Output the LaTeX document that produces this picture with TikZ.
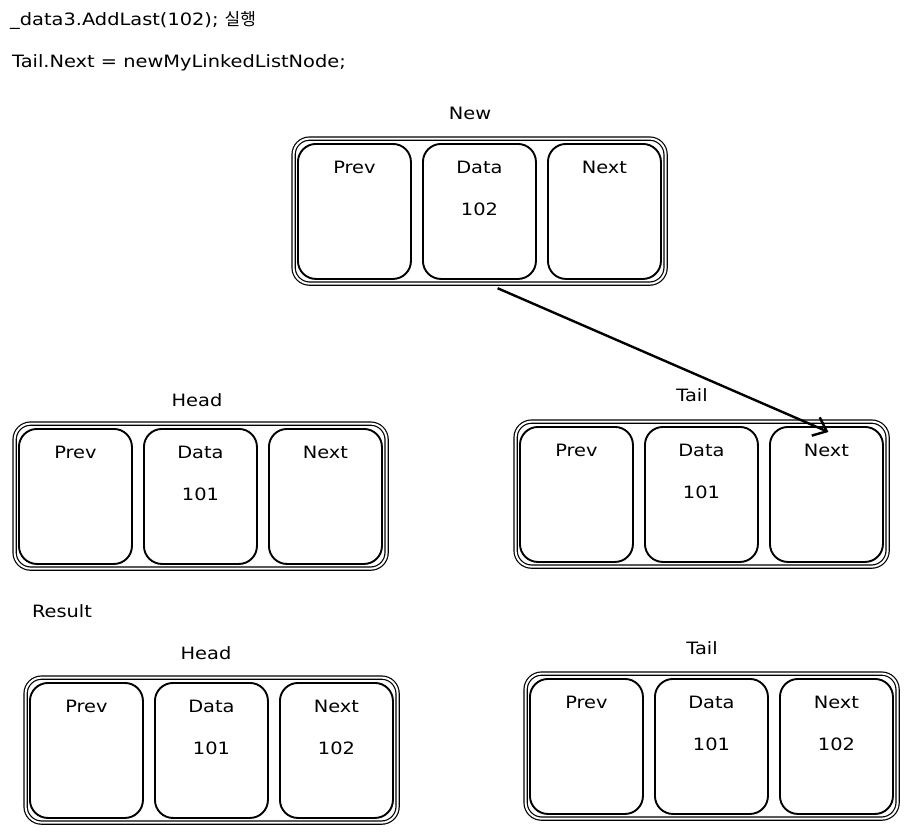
\documentclass[tikz,border=0pt]{standalone}
\usepackage{fontspec}
\setmainfont{DejaVu Sans}[FakeStretch=1.14]
\newfontfamily\krfont{Noto Sans CJK KR}
\usetikzlibrary{arrows.meta}
\tikzset{
  x=1pt, y=-1pt,
  outerbox/.style={draw, double, double distance=2pt, line width=1.2pt, rounded corners=16pt,
    minimum width=372pt, minimum height=145pt, anchor=north west, inner sep=0pt},
  cellbox/.style={draw, line width=1.9pt, rounded corners=18pt,
    minimum width=113pt, minimum height=135pt, anchor=north west, inner sep=0pt},
  lbl/.style={font=\fontsize{17}{20}\selectfont, inner sep=0pt},
  toptext/.style={font=\fontsize{17}{20}\selectfont, inner sep=0pt, anchor=west},
  arr/.style={line width=2.4pt, -{Straight Barb[length=12pt,width=20pt]}}
}
% name, x, y (top-left of outer box), data value, next value
\newcommand\lnode[5]{%
  \node[outerbox] (#1) at (#2,#3) {};
  \node[cellbox] (#1p) at (#2+4,#3+5) {};
  \node[cellbox] (#1d) at (#2+129,#3+5) {};
  \node[cellbox] (#1n) at (#2+254,#3+5) {};
  \node[lbl] (#1pt) at ([yshift=-24pt]#1p.north) {Prev};
  \node[lbl] (#1dt) at ([yshift=-24pt]#1d.north) {Data};
  \node[lbl] (#1nt) at ([yshift=-24pt]#1n.north) {Next};
  \node[lbl] (#1dv) at ([yshift=-66pt]#1d.north) {#4};
  \node[lbl] (#1nv) at ([yshift=-66pt]#1n.north) {#5};
}
\begin{document}
\begin{tikzpicture}
\useasboundingbox (0,0) rectangle (907,831);
\node[toptext] (line1) at (10,20) {\_data3.AddLast(102); {\krfont 실행}};
\node[toptext] (line2) at (12,63) {Tail.Next = newMyLinkedListNode;};

\lnode{new}{293}{138}{102}{}
\node[lbl] (newlbl) at (470,113) {New};

\lnode{head}{14}{423}{101}{}
\node[lbl] (headlbl) at (197,400) {Head};

\lnode{tail}{515}{421}{101}{}
\node[lbl] (taillbl) at (692,395) {Tail};

\node[lbl] (result) at (62,611) {Result};

\lnode{rhead}{25}{677}{101}{102}
\node[lbl] (rheadlbl) at (206,653) {Head};

\lnode{rtail}{525}{673}{101}{102}
\node[lbl] (rtaillbl) at (702,648) {Tail};

\draw[arr] ([xshift=18pt,yshift=-4pt]new.south) -- ([xshift=2pt,yshift=-6pt]tailn.north);
\end{tikzpicture}
\end{document}
